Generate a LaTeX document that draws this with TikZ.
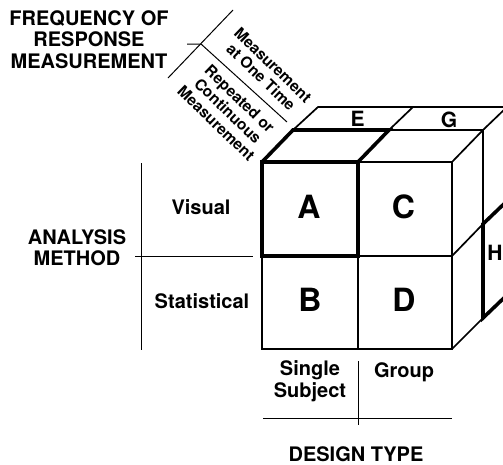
\documentclass[tikz,border=0pt]{standalone}
\usepackage{fontspec}
\setmainfont{TeX Gyre Heros}
\begin{document}
\begin{tikzpicture}[x=1pt,y=-1pt,
  edge/.style={line width=1.7pt, line join=miter},
  boldedge/.style={line width=3.6pt, line join=miter},
  axisline/.style={line width=1pt},
  lbl/.style={font=\fontsize{20}{21.5}\selectfont\bfseries, inner sep=0pt, align=center},
  cellmark/.style={font=\fontsize{32}{34}\selectfont\bfseries, inner sep=0pt},
  backmark/.style={font=\fontsize{21}{22}\selectfont\bfseries, inner sep=0pt},
  slicelbl/.style={font=\fontsize{15.5}{17}\selectfont\bfseries, inner sep=0pt, align=center, rotate=-44},
]
\useasboundingbox (0,0) rectangle (503,464);
\clip (0,0) rectangle (503,464);

% front face corners
\coordinate (f1) at (262,162); \coordinate (f2) at (358,162); \coordinate (f3) at (452,162);
\coordinate (m1) at (262,256); \coordinate (m2) at (358,256); \coordinate (m3) at (452,256);
\coordinate (b1) at (262,349); \coordinate (b2) at (358,349); \coordinate (b3) at (452,349);
% middle depth
\coordinate (t1) at (293,130); \coordinate (t2) at (389,130); \coordinate (t3) at (483,130);
\coordinate (r2) at (483,224); \coordinate (r3) at (483,318);
% back depth
\coordinate (u1) at (318,107); \coordinate (u2) at (413,107); \coordinate (u3) at (507,107);
\coordinate (u4) at (540,107);
\coordinate (v2) at (507,201); \coordinate (v3) at (507,295);

% thin cube edges
\draw[edge] (f1) rectangle (b3);
\draw[edge] (f2) -- (b2);
\draw[edge] (m1) -- (m3);
\draw[edge] (f3) -- (t3) -- (u3);
\draw[edge] (t1) -- (t3);
\draw[edge] (t1) -- (u1) -- (u4);
\draw[edge] (t2) -- (u2);
\draw[edge] (t3) -- (r3);
\draw[edge] (m3) -- (r2);
\draw[edge] (b3) -- (r3);

% highlighted cells A and H
\draw[boldedge] (f1) rectangle (m2);
\draw[boldedge] (f1) -- (t1) -- (t2) -- (f2);
\draw[boldedge] (v2) -- (r2) -- (r3) -- (v3);

% axis lines
\draw[axisline] (141,163) -- (141,350);
\draw[axisline] (135,256.5) -- (253,256.5);
\draw[axisline] (263,418) -- (452,418);
\draw[axisline] (358,361) -- (358,425);
\draw[axisline] (168,78) -- (233,10);
\draw[axisline] (187,44) -- (201,44) -- (287,122);

% axis titles
\node[lbl, anchor=north] (freq) at (89,10) {FREQUENCY OF\\RESPONSE\\MEASUREMENT};
\node[lbl, anchor=north] (analysis) at (77,229) {ANALYSIS\\METHOD};
\node[lbl, anchor=north] (design) at (356,446) {DESIGN TYPE};

% level labels
\node[lbl, anchor=north] (visual) at (201,199) {Visual};
\node[lbl, anchor=north] (statistical) at (202,293) {Statistical};
\node[lbl, anchor=north, font=\fontsize{20}{22}\selectfont\bfseries] (single) at (310,360) {Single\\Subject};
\node[lbl, anchor=north] (group) at (404,362) {Group};
\node[slicelbl] (onetime) at (267,71) {Measurement\\at One Time};
\node[slicelbl] (repeated) at (228,111) {Repeated or\\Continuous\\Measurement};

% cell letters
\node[cellmark] (A) at (309,207) {A};
\node[cellmark] (C) at (403.5,207) {C};
\node[cellmark] (B) at (310,300) {B};
\node[cellmark] (D) at (404,300) {D};
\node[backmark] (E) at (357.5,119) {E};
\node[backmark] (G) at (449,120) {G};
\node[backmark] (H) at (495,253) {H};
\end{tikzpicture}
\end{document}
